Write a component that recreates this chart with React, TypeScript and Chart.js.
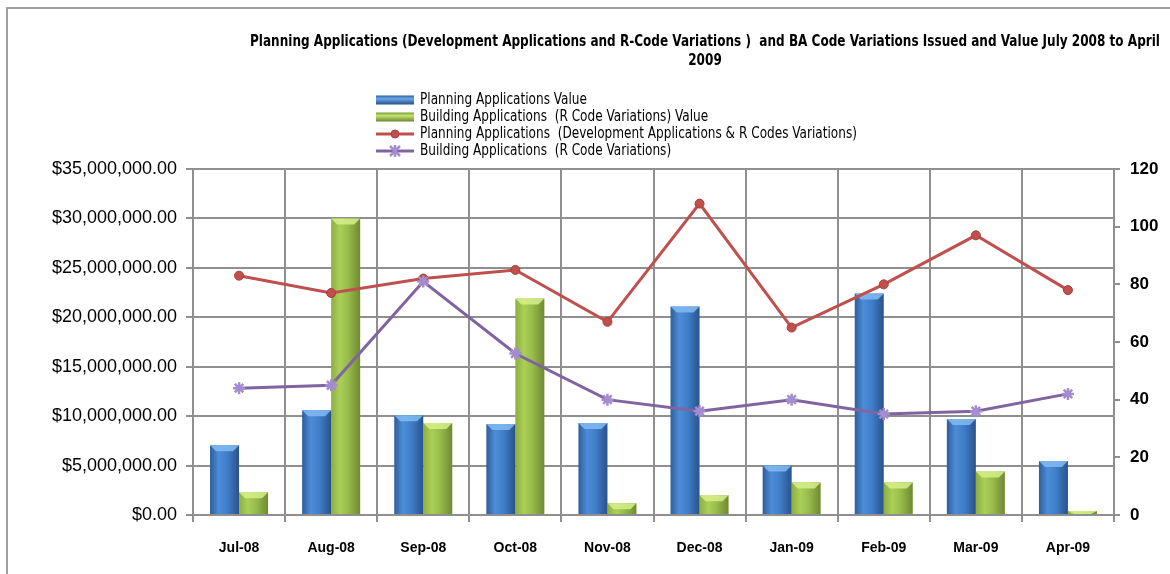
import React, { useEffect, useRef } from "react";
import { Chart, registerables } from "chart.js";

Chart.register(...registerables);

const categories = ["Jul-08", "Aug-08", "Sep-08", "Oct-08", "Nov-08", "Dec-08", "Jan-09", "Feb-09", "Mar-09", "Apr-09"];
const planningValue = [7050000, 10600000, 10100000, 9200000, 9300000, 21100000, 5000000, 22400000, 9700000, 5450000];
const buildingValue = [2300000, 30000000, 9300000, 21900000, 1200000, 2000000, 3300000, 3300000, 4400000, 400000];
const planningCount = [83, 77, 82, 85, 67, 108, 65, 80, 97, 78];
const buildingCount = [44, 45, 81, 56, 40, 36, 40, 35, 36, 42];

const titleLines = [
  "Planning Applications (Development Applications and R-Code Variations )  and BA Code Variations Issued and Value July 2008 to April",
  "2009",
];
const legendLabels = [
  "Planning Applications Value",
  "Building Applications  (R Code Variations) Value",
  "Planning Applications  (Development Applications & R Codes Variations)",
  "Building Applications  (R Code Variations)",
];

const NARROW = '"DejaVu Sans Condensed", "Liberation Sans", sans-serif';
const SANS = '"Liberation Sans", Arial, sans-serif';
const GRID = "#8f8f8f";

const BLUE_STOPS: [number, string][] = [[0, "#2e5d9b"], [0.3, "#4d8dd8"], [0.6, "#3f7dc8"], [1, "#2a528b"]];
const GREEN_STOPS: [number, string][] = [[0, "#8eae40"], [0.3, "#aad058"], [0.6, "#97ba49"], [1, "#6e8933"]];
const BLUE_TOP = "#82bbf2";
const GREEN_TOP = "#d6f08a";
const RED = "#c0504d";
const PURPLE = "#8064a2";
const PURPLE_MARK = "#a48cce";

function makeGrad(ctx: CanvasRenderingContext2D, x0: number, x1: number, stops: [number, string][]) {
  const g = ctx.createLinearGradient(x0, 0, x1, 0);
  stops.forEach(([o, c]) => g.addColorStop(o, c));
  return g;
}

function fitText(ctx: CanvasRenderingContext2D, text: string, x: number, y: number, sx: number, align: "left" | "center") {
  ctx.save();
  ctx.translate(x, y);
  ctx.scale(sx, 1);
  ctx.textAlign = align;
  ctx.fillText(text, 0, 0);
  ctx.restore();
}

const decorPlugin = {
  id: "decor",
  beforeDraw(chart: any) {
    const ctx = chart.ctx as CanvasRenderingContext2D;
    ctx.save();
    ctx.strokeStyle = "#a0a0a0";
    ctx.lineWidth = 2;
    ctx.beginPath();
    ctx.moveTo(7, 574);
    ctx.lineTo(7, 8);
    ctx.lineTo(1170, 8);
    ctx.stroke();
    ctx.restore();
  },
  beforeDatasetDraw(chart: any, args: any) {
    const idx = args.index;
    if (idx > 1) return;
    const ctx = chart.ctx as CanvasRenderingContext2D;
    const meta = chart.getDatasetMeta(idx);
    const stops = idx === 0 ? BLUE_STOPS : GREEN_STOPS;
    meta.data.forEach((el: any) => {
      const w = el.width;
      const g = makeGrad(ctx, el.x - w / 2, el.x + w / 2, stops);
      el.options = Object.assign({}, el.options, { backgroundColor: g });
    });
  },
  afterDatasetDraw(chart: any, args: any) {
    const idx = args.index;
    if (idx > 1) return;
    const ctx = chart.ctx as CanvasRenderingContext2D;
    const meta = chart.getDatasetMeta(idx);
    const top = idx === 0 ? BLUE_TOP : GREEN_TOP;
    ctx.save();
    meta.data.forEach((el: any) => {
      const w = el.width;
      const l = el.x - w / 2;
      const r = el.x + w / 2;
      const h = Math.min(6, Math.abs(el.base - el.y));
      ctx.fillStyle = top;
      ctx.globalAlpha = 0.85;
      ctx.beginPath();
      ctx.moveTo(l, el.y);
      ctx.lineTo(r, el.y);
      ctx.lineTo(r - 6, el.y + h);
      ctx.lineTo(l + 6, el.y + h);
      ctx.closePath();
      ctx.fill();
    });
    ctx.restore();
  },
  afterDraw(chart: any) {
    const ctx = chart.ctx as CanvasRenderingContext2D;
    ctx.save();
    // title
    ctx.fillStyle = "#000";
    ctx.font = `bold 15px ${NARROW}`;
    ctx.textBaseline = "middle";
    const tw = ctx.measureText(titleLines[0]).width;
    const tsx = 910 / tw;
    fitText(ctx, titleLines[0], 705, 42, tsx, "center");
    fitText(ctx, titleLines[1], 705, 61, tsx, "center");
    // legend
    const mx0 = 376, mx1 = 414, tx = 420;
    const rows = [100, 117, 134, 151];
    ctx.font = `15px ${NARROW}`;
    const lsx = 167 / ctx.measureText(legendLabels[0]).width;
    rows.forEach((y, i) => {
      if (i < 2) {
        const g = ctx.createLinearGradient(0, y - 4.5, 0, y + 4.5);
        g.addColorStop(0, i === 0 ? "#2f5f9f" : "#7a9a35");
        g.addColorStop(0.35, i === 0 ? "#6aa6e8" : "#c4e470");
        g.addColorStop(1, i === 0 ? "#2a5189" : "#6c8631");
        ctx.fillStyle = g;
        ctx.fillRect(mx0, y - 4.5, mx1 - mx0, 9);
      } else {
        const col = i === 2 ? RED : PURPLE;
        ctx.strokeStyle = col;
        ctx.lineWidth = 3;
        ctx.beginPath();
        ctx.moveTo(mx0, y);
        ctx.lineTo(mx1, y);
        ctx.stroke();
        const cx = (mx0 + mx1) / 2;
        if (i === 2) {
          ctx.fillStyle = RED;
          ctx.strokeStyle = "#a83c3a";
          ctx.lineWidth = 1;
          ctx.beginPath();
          ctx.arc(cx, y, 4, 0, Math.PI * 2);
          ctx.fill();
          ctx.stroke();
        } else {
          ctx.strokeStyle = PURPLE_MARK;
          ctx.lineWidth = 2.5;
          ctx.beginPath();
          const r = 5;
          ctx.moveTo(cx - r, y - r); ctx.lineTo(cx + r, y + r);
          ctx.moveTo(cx - r, y + r); ctx.lineTo(cx + r, y - r);
          ctx.moveTo(cx, y - r - 1); ctx.lineTo(cx, y + r + 1);
          ctx.stroke();
        }
      }
      ctx.fillStyle = "#000";
      fitText(ctx, legendLabels[i], tx, y + 0.5, lsx, "left");
    });
    ctx.restore();
  },
};

export default function App() {
  const ref = useRef<HTMLCanvasElement | null>(null);
  useEffect(() => {
    if (!ref.current) return;
    const chart = new Chart(ref.current, {
      type: "bar",
      data: {
        labels: categories,
        datasets: [
          {
            type: "bar",
            label: legendLabels[0],
            data: planningValue,
            backgroundColor: "#3c79c3",
            yAxisID: "y",
            order: 2,
            categoryPercentage: 0.63,
            barPercentage: 1,
          },
          {
            type: "bar",
            label: legendLabels[1],
            data: buildingValue,
            backgroundColor: "#94b747",
            yAxisID: "y",
            order: 2,
            categoryPercentage: 0.63,
            barPercentage: 1,
          },
          {
            type: "line",
            label: legendLabels[2],
            data: planningCount,
            borderColor: RED,
            borderWidth: 3,
            backgroundColor: RED,
            pointBackgroundColor: RED,
            pointBorderColor: "#a83c3a",
            pointBorderWidth: 1,
            pointRadius: 4.5,
            pointStyle: "circle",
            yAxisID: "y1",
            order: 1,
            tension: 0,
          },
          {
            type: "line",
            label: legendLabels[3],
            data: buildingCount,
            borderColor: PURPLE,
            borderWidth: 3,
            backgroundColor: PURPLE_MARK,
            pointBorderColor: PURPLE_MARK,
            pointBorderWidth: 2.5,
            pointRadius: 6,
            pointStyle: "star",
            yAxisID: "y1",
            order: 0,
            tension: 0,
          },
        ],
      },
      options: {
        responsive: false,
        animation: false,
        events: [],
        layout: { padding: { top: 169, left: 0, right: 0, bottom: 0 } },
        plugins: {
          legend: { display: false },
          title: { display: false },
          tooltip: { enabled: false },
        },
        scales: {
          x: {
            offset: true,
            grid: { offset: true, color: GRID, lineWidth: 2, tickLength: 7, tickColor: GRID },
            border: { display: true, color: GRID, width: 2 },
            ticks: { color: "#000", font: { family: SANS, size: 14, weight: "bold" }, padding: 18 },
            afterFit: (s: any) => { s.height = 59; },
          },
          y: {
            position: "left",
            min: 0,
            max: 35000000,
            ticks: {
              stepSize: 5000000,
              color: "#000",
              font: { family: SANS, size: 18 },
              padding: 9,
              callback: (v: any) => "$" + Number(v).toLocaleString("en-US", { minimumFractionDigits: 2, maximumFractionDigits: 2 }),
            },
            grid: { color: GRID, lineWidth: 2, tickLength: 7, tickColor: GRID },
            border: { display: true, color: GRID, width: 2 },
            afterFit: (s: any) => { s.width = 193; },
          },
          y1: {
            position: "right",
            min: 0,
            max: 120,
            ticks: {
              stepSize: 20,
              color: "#000",
              font: { family: SANS, size: 17, weight: "bold" },
              padding: 10,
            },
            grid: { drawOnChartArea: false, color: GRID, lineWidth: 2, tickLength: 6, tickColor: GRID },
            border: { display: true, color: GRID, width: 2 },
            afterFit: (s: any) => { s.width = 56; },
          },
        },
      },
      plugins: [decorPlugin],
    } as any);
    return () => chart.destroy();
  }, []);
  return (
    <div style={{ position: "absolute", left: 0, top: 0, width: 1170, height: 574, background: "#fff" }}>
      <canvas ref={ref} width={1170} height={574} style={{ width: 1170, height: 574, display: "block" }} />
    </div>
  );
}
